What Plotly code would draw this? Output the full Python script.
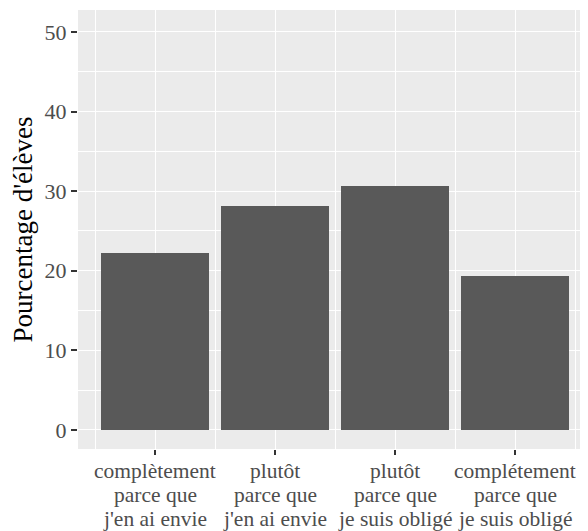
import plotly.graph_objects as go

categories = [
    "complètement<br>parce que<br>j'en ai envie",
    "plutôt<br>parce que<br>j'en ai envie",
    "plutôt<br>parce que<br>je suis obligé",
    "complétement<br>parce que<br>je suis obligé",
]
values = [22.2, 28.1, 30.6, 19.3]
y_ticks = [0, 10, 20, 30, 40, 50]
y_minor = [5, 15, 25, 35, 45]

xpos = list(range(len(categories)))
x_minor = [p - 0.5 for p in xpos] + [xpos[-1] + 0.5, xpos[-1] + 1.5]

fig = go.Figure(go.Bar(
    x=xpos, y=values, width=0.9,
    marker=dict(color="#595959", line=dict(width=0)),
    hoverinfo="skip",
))

font = "Liberation Serif, Times New Roman, serif"
fig.update_layout(
    width=588, height=531,
    margin=dict(l=70, r=0, t=2, b=90),
    paper_bgcolor="white", plot_bgcolor="#EBEBEB",
    showlegend=False,
    font=dict(family=font, color="#4D4D4D", size=21.5),
    bargap=0,
)

# multi-line category labels with ggplot-like tight line spacing
line_gap = 24
for p, lab in zip(xpos, categories):
    for i, line in enumerate(lab.split("<br>")):
        fig.add_annotation(
            x=p, xref="x", y=0, yref="paper",
            text=line, showarrow=False,
            xanchor="center", yanchor="middle",
            yshift=-22 - i * line_gap,
            font=dict(family=font, size=21.5, color="#4D4D4D"),
        )

fig.update_xaxes(
    range=[-0.642, 3.675], automargin=False,
    tickmode="array", tickvals=xpos, showticklabels=False,
    showgrid=True, gridcolor="white", gridwidth=1.3,
    ticks="outside", ticklen=5, tickwidth=1.5, tickcolor="#333333",
    minor=dict(tickvals=x_minor, showgrid=True, gridcolor="white", gridwidth=0.6, ticks=""),
    zeroline=False, showline=False,
)
fig.update_yaxes(
    range=[-2.39, 52.76], automargin=False,
    tickmode="array", tickvals=y_ticks,
    showgrid=True, gridcolor="white", gridwidth=1.3,
    ticks="outside", ticklen=6, tickwidth=1.5, tickcolor="#333333",
    tickfont=dict(family=font, size=22, color="#4D4D4D"),
    minor=dict(tickvals=y_minor, showgrid=True, gridcolor="white", gridwidth=0.6, ticks=""),
    zeroline=False, showline=False,
    title=dict(text="Pourcentage d'élèves", font=dict(family=font, size=27, color="black"), standoff=6),
)

fig.write_html("out.html")
